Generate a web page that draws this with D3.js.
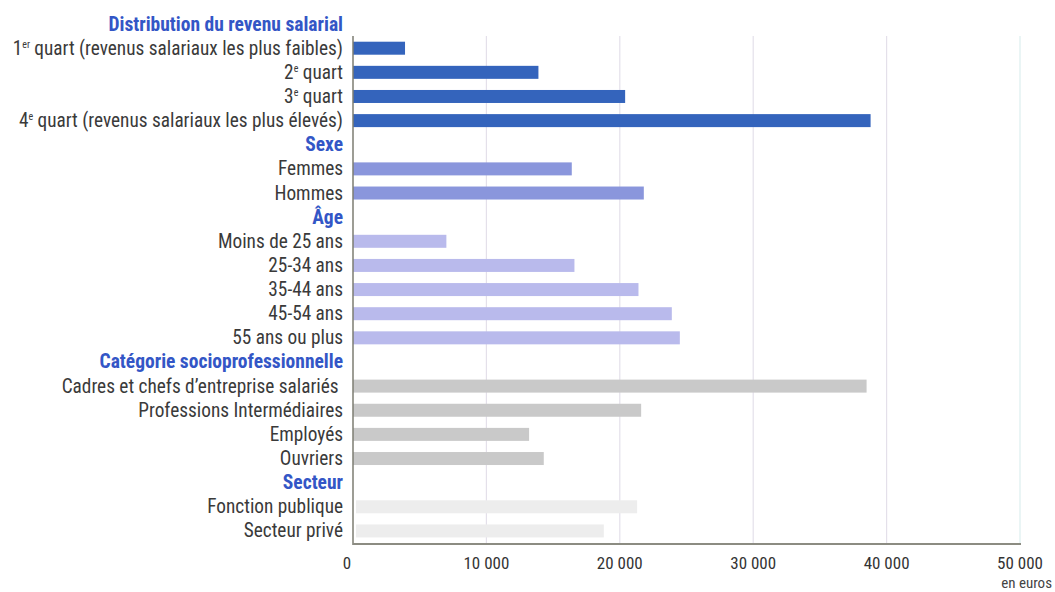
<!DOCTYPE html>
<html><head><meta charset="utf-8">
<script src="https://cdn.jsdelivr.net/npm/d3@7"></script>
<style>
body{margin:0;background:#fff;}
text{font-family:"Liberation Sans Narrow","Arial Narrow","Roboto Condensed","Liberation Sans",sans-serif;white-space:pre;}
</style></head><body>
<svg id="c" width="1055" height="592"></svg>
<script>
const groups = ["Distribution du revenu salarial","Sexe","Âge","Catégorie socioprofessionnelle","Secteur"];
const distLabels = ["1|er| quart (revenus salariaux les plus faibles)","2|e| quart","3|e| quart","4|e| quart (revenus salariaux les plus élevés)"];
const distValues = [3900, 13900, 20400, 38800];
const sexeLabels = ["Femmes","Hommes"];
const sexeValues = [16400, 21800];
const ageLabels = ["Moins de 25 ans","25-34 ans","35-44 ans","45-54 ans","55 ans ou plus"];
const ageValues = [7000, 16600, 21400, 23900, 24500];
const cspLabels = ["Cadres et chefs d’entreprise salariés ","Professions Intermédiaires","Employés","Ouvriers"];
const cspValues = [38500, 21600, 13200, 14300];
const secteurLabels = ["Fonction publique","Secteur privé"];
const secteurValues = [21300, 18800];
const xTicks = [0,10000,20000,30000,40000,50000];
const colors = ["#3464bc","#8a96dc","#b9baec","#c9c9c9","#ededed"];

(function(){
const labelSets=[distLabels,sexeLabels,ageLabels,cspLabels,secteurLabels];
const valueSets=[distValues,sexeValues,ageValues,cspValues,secteurValues];
const rows=[];
groups.forEach((g,gi)=>{
  rows.push({type:"h",label:g,gi});
  labelSets[gi].forEach((l,i)=>rows.push({type:"b",label:l,value:valueSets[gi][i],gi}));
});

const svg=d3.select("#c");
const x=d3.scaleLinear().domain([0,50000]).range([353,1020]);
const y=d3.scaleBand().domain(d3.range(rows.length)).range([12,543]).paddingInner(0).paddingOuter(0);
const yTop=36,yBot=544;

svg.append("g").selectAll("line").data(xTicks.slice(1)).join("line")
  .attr("x1",d=>x(d)).attr("x2",d=>x(d)).attr("y1",yTop).attr("y2",yBot)
  .attr("stroke",d=>d===50000?"#dcefee":"#e4e0ea").attr("stroke-width",1.2);

const bh=13;
svg.append("g").selectAll("rect").data(rows.map((r,i)=>({...r,i})).filter(r=>r.type==="b")).join("rect")
  .attr("x",d=>x(0)+(d.gi===4?3:0)).attr("width",d=>x(d.value)-x(0)-(d.gi===4?3:0))
  .attr("y",d=>y(d.i)+y.bandwidth()/2-bh/2).attr("height",bh)
  .attr("fill",d=>colors[d.gi]);

svg.append("line").attr("x1",x(0)).attr("x2",x(0)).attr("y1",yTop).attr("y2",yBot+1).attr("stroke","#7d7d72").attr("stroke-width",1.5);
svg.append("line").attr("x1",x(0)).attr("x2",1021).attr("y1",yBot).attr("y2",yBot).attr("stroke","#8c8c82").attr("stroke-width",2);

const fmt=d=>d3.format(",")(d).replace(/,/g," ");
svg.append("g").selectAll("text").data(xTicks).join("text")
  .attr("x",d=>x(d)+(d===0?-6:0)).attr("y",569).attr("text-anchor","middle")
  .attr("font-size",17).attr("fill","#333").text(fmt);
svg.append("text").attr("x",1052).attr("y",588).attr("text-anchor","end").attr("font-size",15).attr("fill","#444").text("en euros");

const lg=svg.append("g");
rows.forEach((r,i)=>{
  const t=lg.append("text").attr("x",343).attr("y",y(i)+y.bandwidth()/2+6.5).attr("text-anchor","end");
  if(r.type==="h"){
    t.attr("font-size",19.5).attr("font-weight","bold").attr("fill","#3356c6").text(r.label);
  } else {
    t.attr("font-size",19.3).attr("fill","#3a3a3a");
    const parts=r.label.split("|");
    parts.forEach((p,k)=>{
      if(k%2===1) t.append("tspan").attr("font-size",10).attr("dy",-7).text(p);
      else t.append("tspan").attr("dy",k>0?7:0).text(p);
    });
  }
});
})();
</script>
</body></html>
